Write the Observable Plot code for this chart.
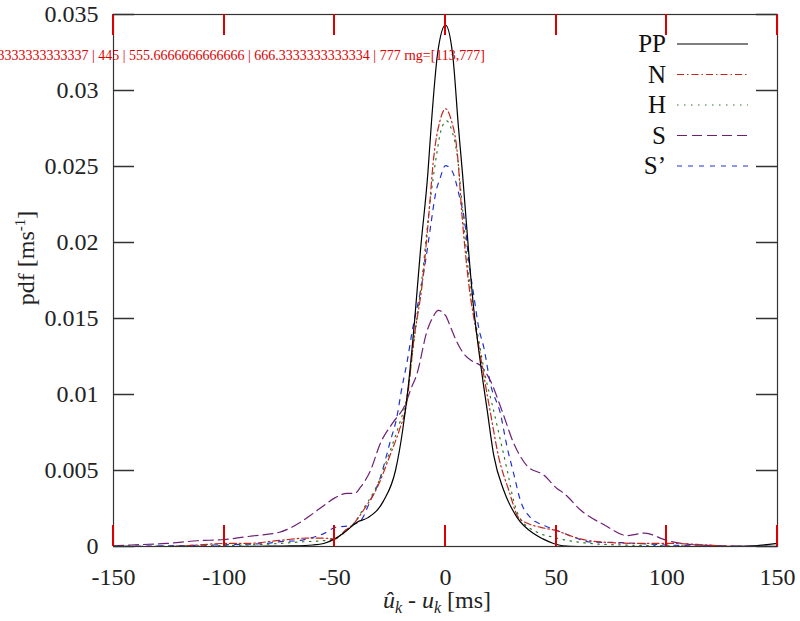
<!DOCTYPE html>
<html><head><meta charset="utf-8">
<script src="https://cdn.jsdelivr.net/npm/d3@7"></script>
<script src="https://cdn.jsdelivr.net/npm/@observablehq/plot@0.6"></script>
<style>
body{margin:0;background:#fff}
#chart{position:relative;width:800px;height:621px}
svg text{font-family:"Liberation Serif",serif}
</style>
</head><body><div id="chart"></div>
<script>
// ---- data ----
const seriesNames = ["PP", "N", "H", "S", "S’"];

const ppU = [-150,-100,-80,-70,-60,-55,-50,-45,-40,-35,-28,-22.6,-19.4,-17,-14,-11.3,-8,-6.3,-3.6,0,3.2,5.9,7.7,10.4,12.5,14.5,17,18.8,21.8,26.3,32.4,39.8,44,48.8,53,60,100,130,140,150];
const ppV = [0,0,0.00002,0.00004,0.0001,0.0002,0.0005,0.0010,0.0016,0.0019,0.0030,0.0050,0.0076,0.0103,0.0148,0.0195,0.0245,0.0280,0.0324,0.0343,0.0324,0.0275,0.0245,0.0195,0.0160,0.0135,0.0108,0.0090,0.0060,0.0037,0.0019,0.00085,0.0005,0.0002,0.00005,0,0,0,0.00005,0.0002];

const nU = [-150,-125,-112,-100,-90,-75,-63,-55,-50,-45,-41.5,-37,-30.8,-24.8,-21,-17.6,-14.2,-10.5,-7.6,-5.4,-2.5,0,2.5,5.4,7.5,10.5,14.8,20.3,24,28.6,33,37.5,43,50,56.5,61,70,88,103,118,130,150];
const nV = [0,0,0.0001,0.0002,0.0002,0.0004,0.00055,0.00055,0.0005,0.0011,0.0015,0.0024,0.0039,0.0061,0.0076,0.0094,0.0137,0.0173,0.0217,0.0255,0.0280,0.0288,0.0281,0.0258,0.0217,0.0173,0.0134,0.0088,0.0059,0.0037,0.0019,0.0015,0.00126,0.00105,0.0007,0.0005,0.0003,0.0002,0.0002,0.0001,0,0];

const hU = [-150,-110,-90,-75,-65.5,-54,-50,-45,-41,-37,-31,-25,-21,-17.5,-14,-10.5,-7.5,-4,-2,0.5,3,5.5,7.8,10.8,15,18,21,24.8,27.9,30.8,33.9,41.4,48.9,55,65.5,80,100,150];
const hV = [0,0.00005,0.0001,0.0002,0.0003,0.0004,0.0005,0.0010,0.0016,0.0025,0.0040,0.0063,0.0080,0.0098,0.0138,0.0178,0.0220,0.0258,0.0274,0.0280,0.0273,0.0255,0.0220,0.0175,0.0136,0.0112,0.0094,0.0070,0.0050,0.0030,0.0018,0.00094,0.0006,0.0004,0.0002,0.0001,0.00005,0];

const sU = [-150,-142,-126,-112,-100,-87,-75,-65.5,-59.6,-54,-50,-44.5,-41,-38.4,-33.9,-29.4,-24,-18,-15.8,-12.8,-8.3,-6,-3.2,0,2.3,5,8.2,12,15.8,20.3,25.6,30.8,36.9,44.4,50.5,53.5,61,72,82,90,100,111,125,150];
const sV = [0.00005,0.0001,0.0002,0.00038,0.00046,0.0007,0.00094,0.0016,0.0022,0.0028,0.0032,0.0035,0.0035,0.0039,0.0050,0.0068,0.0081,0.0094,0.0103,0.0114,0.0142,0.0150,0.01553,0.0152,0.01443,0.0135,0.0127,0.0122,0.0119,0.0109,0.0089,0.0068,0.0053,0.0047,0.0038,0.0035,0.0024,0.0014,0.00072,0.00088,0.0004,0.00013,0.00005,0];

const spU = [-150,-105,-95.6,-81,-76,-65.5,-62.5,-55,-49.5,-44.4,-38.4,-34,-30,-24.8,-22,-20,-17.3,-15,-11.3,-9,-6.8,-4.5,-2.3,0,3,6,9,10.5,12.7,15,17.3,20.3,24.8,27.9,30.8,33.9,38.4,44.3,50.5,56.5,65.5,80,95.6,110,150];
const spV = [0,0.0001,0.00013,0.0002,0.0003,0.0004,0.0005,0.00085,0.00127,0.00135,0.0017,0.0030,0.0043,0.0070,0.0085,0.0102,0.0122,0.0142,0.0168,0.0188,0.0210,0.0232,0.0243,0.02506,0.0247,0.0232,0.0210,0.0188,0.0166,0.0144,0.0131,0.0107,0.00875,0.0065,0.0048,0.0030,0.0019,0.0014,0.00105,0.0007,0.0003,0.00025,0.00013,0.00005,0];

const xTicks = [-150,-100,-50,0,50,100,150];
const xTickLabels = ["-150","-100","-50","0","50","100","150"];
const yTicks = [0,0.005,0.01,0.015,0.02,0.025,0.03,0.035];
const yTickLabels = ["0","0.005","0.01","0.015","0.02","0.025","0.03","0.035"];

// ---- styles / layout ----
const colors = ["#000000", "#c3261c", "#2a7a2a", "#6e2074", "#2233cc"];
const dashes = ["none", "7,3,1.5,3", "1.5,5.5", "10,5", "5,6"];
const FONT = "Liberation Serif, serif";
const AXIS = "#333";
const W = 800, H = 621, mL = 113, mR = 23, mT = 14, mB = 75;
const TICK = 21;

const us = [ppU, nU, hU, sU, spU];
const vs = [ppV, nV, hV, sV, spV];
const rows = seriesNames.flatMap((name, i) => us[i].map((u, j) => ({series: name, u, v: vs[i][j]})));

const lineMarks = [4, 3, 2, 1, 0].map(i => Plot.line(rows.filter(r => r.series === seriesNames[i]), {
  x: "u", y: "v", stroke: colors[i], strokeWidth: 1.2,
  strokeDasharray: dashes[i] === "none" ? null : dashes[i],
  curve: "monotone-x"
}));

const svg = Plot.plot({
  width: W, height: H,
  marginLeft: mL, marginRight: mR, marginTop: mT, marginBottom: mB,
  style: {fontFamily: FONT, background: "#fff", color: "#222"},
  x: {domain: [-150, 150]},
  y: {domain: [0, 0.035]},
  marks: [
    ...lineMarks,
    Plot.axisX(xTicks, {anchor: "bottom", tickSize: 0, tickPadding: 21, fontSize: 24, fill: "#222",
      tickFormat: d => xTickLabels[xTicks.indexOf(d)], label: null}),
    Plot.axisY(yTicks, {anchor: "left", tickSize: 0, tickPadding: 15, fontSize: 24, fill: "#222",
      tickFormat: d => yTickLabels[yTicks.indexOf(d)], label: null}),
    Plot.frame({stroke: AXIS, strokeWidth: 1.2})
  ]
});

const s = d3.select(svg);
const xs = svg.scale("x"), ys = svg.scale("y");
const fTop = mT, fBottom = H - mB, fLeft = mL, fRight = W - mR;
// pixel position of each x tick, from Plot's x scale (fallback: same linear mapping)
const xLin = d3.scaleLinear().domain(xs.domain).range(xs.range);
const xPos = t => { const p = xs.apply(t); return Number.isFinite(p) ? p : xLin(t); };
const tg = s.append("g").attr("stroke", "#d00").attr("stroke-width", 3).attr("fill", "none");
xTicks.forEach(t => {
  const px = Math.round(xPos(t));
  tg.append("rect").attr("x", px - 1).attr("y", fBottom - TICK).attr("width", 2).attr("height", TICK).attr("fill", "#d00").attr("stroke", "none");
  tg.append("rect").attr("x", px - 1).attr("y", fTop).attr("width", 2).attr("height", TICK).attr("fill", "#d00").attr("stroke", "none");
});
const tgy = s.append("g").attr("stroke", AXIS).attr("stroke-width", 1.5).attr("fill", "none");
yTicks.forEach(t => {
  const py = Math.round(ys.apply(t)) + 0.5;
  tgy.append("path").attr("d", `M${fLeft},${py}H${fLeft + TICK}`);
  tgy.append("path").attr("d", `M${fRight},${py}H${fRight - TICK}`);
});
// debug readout
s.append("text").attr("x", 130).attr("y", 60).attr("font-size", 14).attr("fill", "#d00")
  .text("dbg: " + xTicks.map(t => String(xs.apply(t))).join(" | ") + " rng=" + JSON.stringify(xs.range));
// legend (inside the frame, top right)
seriesNames.forEach((name, i) => {
  const cy = 44 + i * 30.5;
  s.append("text").attr("x", 666).attr("y", cy).attr("dy", "0.33em").attr("text-anchor", "end")
    .attr("font-size", 25).attr("fill", "#111").attr("font-family", FONT).text(name);
  const ln = s.append("line").attr("x1", 677).attr("x2", 748).attr("y1", cy).attr("y2", cy)
    .attr("stroke", colors[i]).attr("stroke-width", 1.2);
  if (dashes[i] !== "none") ln.attr("stroke-dasharray", dashes[i]);
});
// x label
const xl = s.append("text").attr("x", 437).attr("y", 608).attr("text-anchor", "middle")
  .attr("font-size", 24).attr("fill", "#222").attr("font-family", FONT);
xl.append("tspan").attr("font-style", "italic").text("û");
xl.append("tspan").attr("font-style", "italic").attr("font-size", 16).attr("dy", 5).text("k");
xl.append("tspan").attr("dy", -5).text(" - ");
xl.append("tspan").attr("font-style", "italic").text("u");
xl.append("tspan").attr("font-style", "italic").attr("font-size", 16).attr("dy", 5).text("k");
xl.append("tspan").attr("dy", -5).text(" [ms]");
// y label
const yl = s.append("text").attr("transform", "translate(34,258) rotate(-90)").attr("text-anchor", "middle")
  .attr("font-size", 24).attr("fill", "#222").attr("font-family", FONT);
yl.append("tspan").text("pdf [ms");
yl.append("tspan").attr("font-size", 15).attr("dy", -9).text("-1");
yl.append("tspan").attr("dy", 9).text("]");

document.getElementById("chart").appendChild(svg);
</script>
</body></html>
